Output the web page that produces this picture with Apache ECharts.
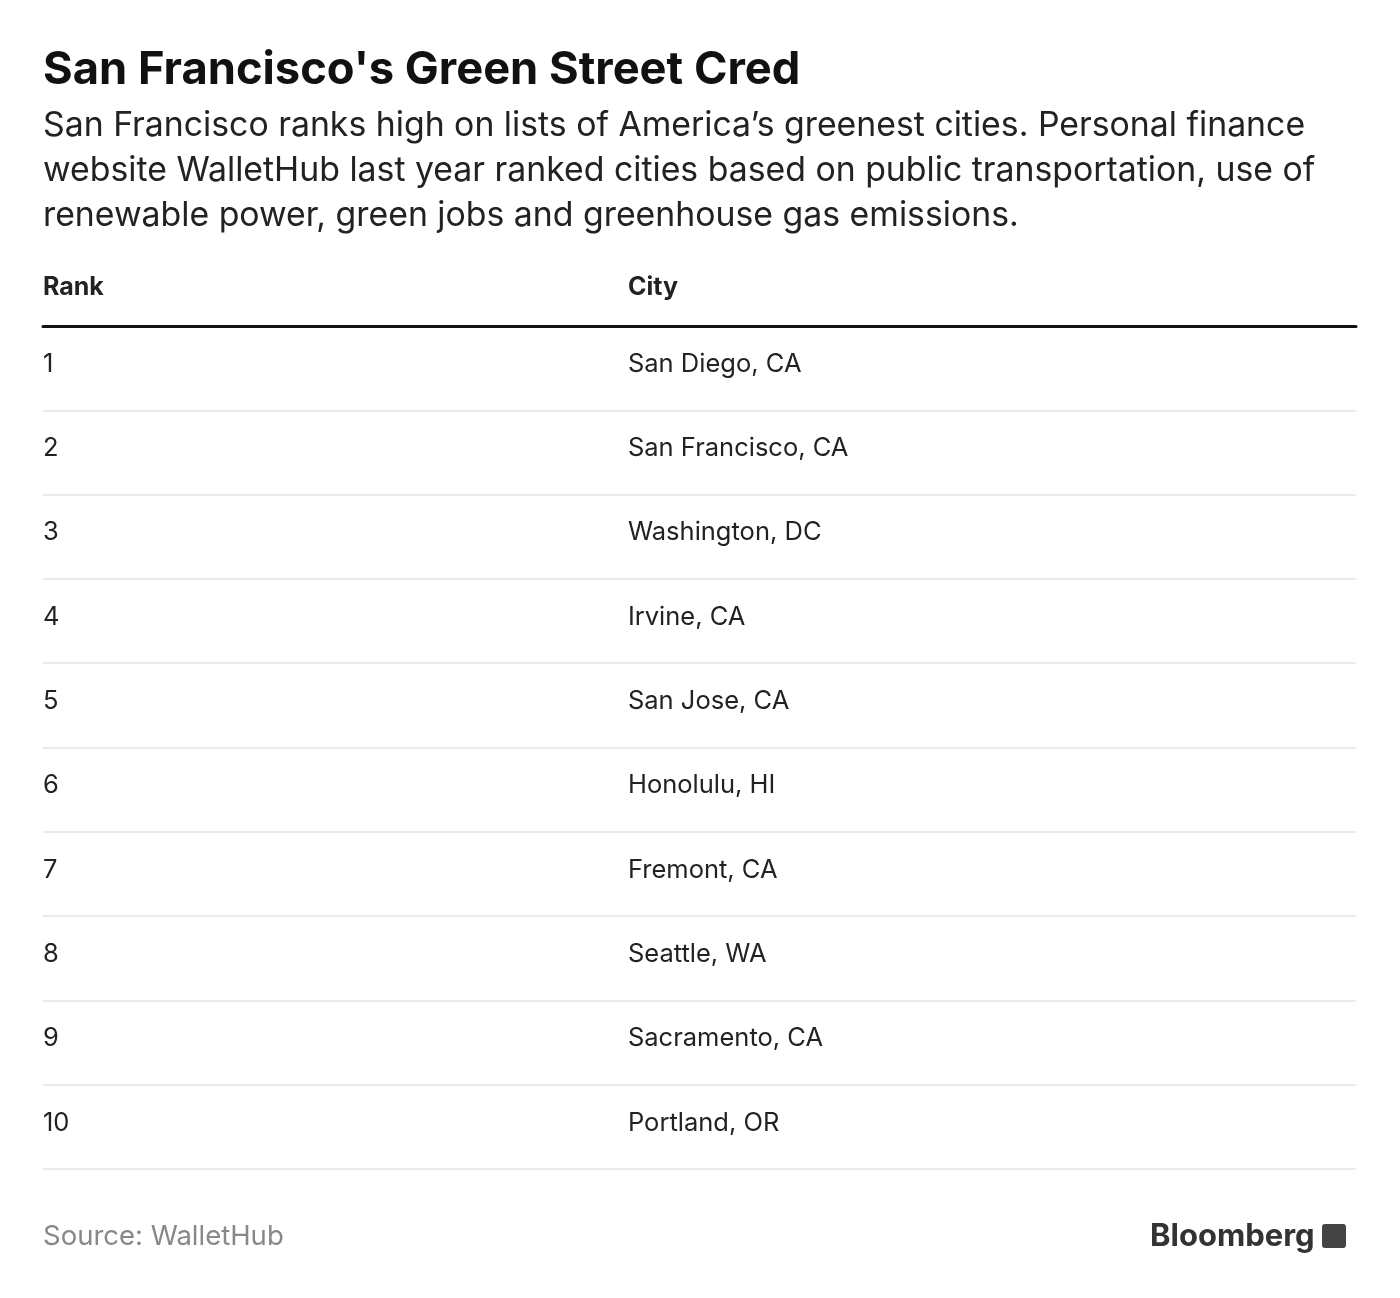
<!DOCTYPE html>
<html><head><meta charset="utf-8">
<script src="https://cdn.jsdelivr.net/npm/echarts@6/dist/echarts.min.js"></script>
<style>html,body{margin:0;padding:0;background:#fff}#c{width:1400px;height:1298px}</style>
</head><body><div id="c"></div>
<script>
const ranks = ['1','2','3','4','5','6','7','8','9','10'];
const cities = ['San Diego, CA','San Francisco, CA','Washington, DC','Irvine, CA','San Jose, CA','Honolulu, HI','Fremont, CA','Seattle, WA','Sacramento, CA','Portland, OR'];
const headers = ['Rank','City'];
const colX = [0, 0.4455];

const F = 'Inter, Roboto, sans-serif';
const chart = echarts.init(document.getElementById('c'));
const data = [];
ranks.forEach((r,i)=>{ data.push([colX[0], i, r]); data.push([colX[1], i, cities[i]]); });
chart.setOption({
  animation:false,
  title:[
    {text:"San Francisco's Green Street Cred",left:43,top:48,padding:0,textStyle:{fontFamily:F,fontSize:45.3,fontWeight:'bold',color:'#111'}},
    {text:"San Francisco ranks high on lists of America’s greenest cities. Personal finance\nwebsite WalletHub last year ranked cities based on public transportation, use of\nrenewable power, green jobs and greenhouse gas emissions.",left:43,top:103,padding:0,textStyle:{fontFamily:F,fontSize:33.8,fontWeight:'normal',color:'#222',lineHeight:45}},
    {text:'Source: WalletHub',left:43,top:1223,padding:0,textStyle:{fontFamily:F,fontSize:27.5,fontWeight:'normal',color:'#888'}},
    {text:'Bloomberg',left:1150,top:1221,padding:0,textStyle:{fontFamily:F,fontSize:31,fontWeight:'bold',color:'#333'}}
  ],
  graphic:[
    {type:'text',left:43,top:275,style:{text:headers[0],font:'bold 25px '+F,fill:'#222'}},
    {type:'text',left:628,top:275,style:{text:headers[1],font:'bold 25px '+F,fill:'#222'}},
    {type:'rect',left:1322,top:1224,shape:{width:24,height:24,r:3},style:{fill:'#444'}}
  ],
  grid:{left:43,right:44,top:326,bottom:129},
  xAxis:{type:'value',min:0,max:1,position:'top',axisLine:{show:true,lineStyle:{color:'#111',width:3}},axisTick:{show:false},axisLabel:{show:false},splitLine:{show:false}},
  yAxis:{type:'category',inverse:true,data:ranks,axisLine:{show:false},axisTick:{show:false},axisLabel:{show:false},splitLine:{show:true,lineStyle:{color:'#e3e3e3',width:1.5}}},
  series:[{type:'custom',data:data,renderItem:(p,api)=>{
    const pt=api.coord([api.value(0),api.value(1)]);
    return {type:'text',x:pt[0],y:pt[1]-4,style:{text:data[p.dataIndex][2],font:'25.5px '+F,fill:'#222',textVerticalAlign:'middle'}};
  }}]
});
</script></body></html>
